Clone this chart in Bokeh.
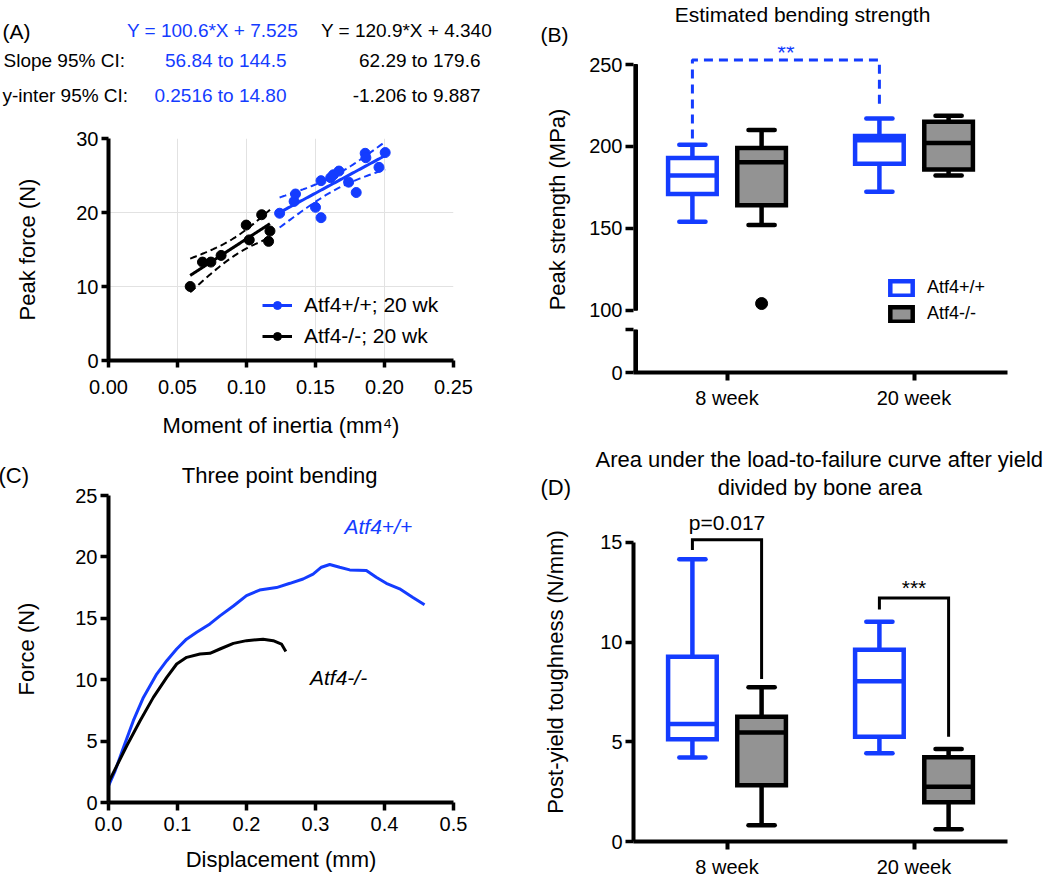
import numpy as np
from bokeh.plotting import figure
from bokeh.models import (Range1d, FixedTicker, NumeralTickFormatter, Label,
                          Legend, LegendItem)
from bokeh.layouts import row, column
from bokeh.embed import file_html
from bokeh.resources import INLINE

FONT = "Liberation Sans"
BLUE = "#143cff"
GRAY = "#939393"
NB = "\u00a0"

# ---------------- Panel A data ----------------
a_wt_x = [0.124, 0.1345, 0.1355, 0.150, 0.154, 0.154, 0.161, 0.163, 0.167,
          0.174, 0.1795, 0.186, 0.1865, 0.196, 0.2005]
a_wt_y = [19.9, 21.5, 22.5, 20.7, 19.3, 24.3, 24.7, 25.1, 25.6,
          24.1, 22.7, 28.0, 27.4, 26.1, 28.1]
a_ko_x = [0.0592, 0.0681, 0.0742, 0.0816, 0.0998, 0.102, 0.111, 0.116, 0.117]
a_ko_y = [10.0, 13.3, 13.3, 14.2, 18.3, 16.3, 19.7, 16.1, 17.5]
a_wt_fit = (100.6, 7.525)
a_ko_fit = (120.9, 4.340)
a_legend = ["Atf4+/+; 20 wk", "Atf4-/-; 20 wk"]
eq_text = ["Y = 100.6*X + 7.525", "Y = 120.9*X + 4.340"]
slope_ci = ["56.84 to 144.5", "62.29 to 179.6"]
yint_ci = ["0.2516 to 14.80", "-1.206 to 9.887"]
row_titles = ["Slope 95% CI:", "y-inter 95% CI:"]
a_xticks = [0, 0.05, 0.10, 0.15, 0.20, 0.25]
a_yticks = [0, 10, 20, 30]

# ---------------- Panel C data ----------------
c_wt_disp = [0, 0.0096, 0.0217, 0.036, 0.0506, 0.0699, 0.0844, 0.0988, 0.113,
             0.1278, 0.147, 0.1615, 0.181, 0.200, 0.219, 0.2435, 0.263, 0.282,
             0.2965, 0.3086, 0.3206, 0.335, 0.3496, 0.3737, 0.388, 0.4026,
             0.4219, 0.4412, 0.458]
c_wt_force = [1.36, 2.58, 4.48, 6.66, 8.56, 10.46, 11.55, 12.5, 13.3, 13.86,
              14.54, 15.2, 16.0, 16.85, 17.3, 17.5, 17.85, 18.2, 18.6, 19.16,
              19.38, 19.16, 18.94, 18.9, 18.34, 17.85, 17.4, 16.7, 16.1]
c_ko_disp = [0, 0.0096, 0.0265, 0.0458, 0.065, 0.0844, 0.0988, 0.1133, 0.1326,
             0.147, 0.1615, 0.181, 0.2, 0.224, 0.2387, 0.2507, 0.257]
c_ko_force = [1.63, 2.72, 4.62, 6.66, 8.56, 10.19, 11.28, 11.82, 12.09, 12.15,
              12.5, 12.96, 13.18, 13.3, 13.18, 12.9, 12.3]
c_labels = ["Atf4+/+", "Atf4-/-"]
c_xticks = [0, 0.1, 0.2, 0.3, 0.4, 0.5]
c_yticks = [0, 5, 10, 15, 20, 25]

# ---------------- Panel B / D data ----------------
categories = ["8 week", "20 week"]
groups = ["Atf4+/+", "Atf4-/-"]

b_wt_min = [154.0, 172.3]
b_wt_q1 = [170.9, 189.4]
b_wt_med = [182.2, 203.8]
b_wt_q3 = [192.9, 206.4]
b_wt_max = [201.1, 217.1]
b_ko_min = [152.0, 182.2]
b_ko_q1 = [164.1, 185.9]
b_ko_med = [190.4, 202.1]
b_ko_q3 = [199.0, 215.1]
b_ko_max = [210.0, 218.8]
b_ko_outlier = [104.1, None]
b_yticks = [100, 150, 200, 250]
b_sig = "**"
b_bracket_y = [204.8, 252.7, 252.7, 223.3]

d_wt_min = [4.21, 4.43]
d_wt_q1 = [5.13, 5.25]
d_wt_med = [5.89, 8.03]
d_wt_q3 = [9.26, 9.62]
d_wt_max = [14.15, 11.02]
d_ko_min = [0.82, 0.62]
d_ko_q1 = [2.82, 1.97]
d_ko_med = [5.46, 2.74]
d_ko_q3 = [6.26, 4.23]
d_ko_max = [7.74, 4.64]
d_yticks = [0, 5, 10, 15]
d_sig = ["p=0.017", "***"]
d_bracket_left = [14.62, 11.64]
d_bracket_top = [15.13, 12.21]
d_bracket_right = [8.15, 5.25]
d_sig_y = [16.0, 12.75]

titles = {"B": "Estimated bending strength", "C": "Three point bending",
          "D": ["Area under the load-to-failure curve after yield", "divided by bone area"]}

# layout constants
WT_OFF, KO_OFF = -0.185, 0.185
BOX_W, CAP_W = 0.26, 0.14
B_ZERO, B_SEG_TOP = 62, 88   # axis-break positions in panel B


def style_axis(ax, label_standoff=3, title_standoff=10):
    ax.axis_line_width = 4
    ax.axis_line_color = "black"
    ax.major_tick_line_width = 3.5
    ax.major_tick_line_color = "black"
    ax.major_tick_out = 8
    ax.major_tick_in = 0
    ax.minor_tick_line_color = None
    ax.major_label_text_font = FONT
    ax.major_label_text_font_size = "20px"
    ax.major_label_text_color = "black"
    ax.major_label_standoff = label_standoff
    ax.axis_label_text_font = FONT
    ax.axis_label_text_font_size = "22px"
    ax.axis_label_text_font_style = "normal"
    ax.axis_label_text_color = "black"
    ax.axis_label_standoff = title_standoff


def make_fig(width, height, x_range, y_range, left, right, top, bottom):
    p = figure(width=width, height=height, x_range=x_range, y_range=y_range,
               output_backend="svg", toolbar_location=None,
               min_border_left=left, min_border_right=right,
               min_border_top=top, min_border_bottom=bottom)
    p.outline_line_color = None
    p.xgrid.grid_line_color = None
    p.ygrid.grid_line_color = None
    p.title.text_font = FONT
    p.title.text_font_size = "22px"
    p.title.text_font_style = "normal"
    p.title.text_color = "black"
    return p


def fit_band(xs, ys, slope, intercept, t_crit, n=60):
    xs = np.asarray(xs); ys = np.asarray(ys)
    k = len(xs)
    resid = ys - (slope * xs + intercept)
    s = np.sqrt(np.sum(resid ** 2) / (k - 2))
    xbar = xs.mean()
    sxx = np.sum((xs - xbar) ** 2)
    gx = np.linspace(xs.min(), xs.max(), n)
    fit = slope * gx + intercept
    half = t_crit * s * np.sqrt(1.0 / k + (gx - xbar) ** 2 / sxx)
    return gx, fit, fit - half, fit + half


T95 = {13: 2.160, 7: 2.365}

# ---------------- Header (panel A statistics) ----------------
hdr = figure(width=520, height=110, x_range=Range1d(0, 520), y_range=Range1d(0, 110),
             x_axis_type=None, y_axis_type=None, output_backend="svg",
             toolbar_location=None, min_border=0)
hdr.outline_line_color = None
hdr.xgrid.grid_line_color = None
hdr.ygrid.grid_line_color = None
try:
    hdr.frame_align = False
except Exception:
    pass


def hlabel(x, y, text, color="black", align="left", size="19px"):
    hdr.add_layout(Label(x=x, y=y, text=text, text_font=FONT, text_font_size=size,
                         text_color=color, text_align=align, text_baseline="middle"))


hlabel(2, 79, "(A)", size="21px")
hlabel(212, 80, eq_text[0], BLUE, "center")
hlabel(406, 80, eq_text[1], "black", "center")
hlabel(3, 50, row_titles[0])
hlabel(286, 50, slope_ci[0], BLUE, "right")
hlabel(480, 50, slope_ci[1], "black", "right")
hlabel(2, 15, row_titles[1])
hlabel(286, 15, yint_ci[0], BLUE, "right")
hlabel(480, 15, yint_ci[1], "black", "right")

# ---------------- Panel A ----------------
pA = make_fig(520, 330, Range1d(0, 0.25), Range1d(0, 30), 108, 67, 28, 72)
style_axis(pA.xaxis[0], 12, 16)
style_axis(pA.yaxis[0], 3, 33)
pA.xaxis.ticker = FixedTicker(ticks=a_xticks)
pA.xaxis.formatter = NumeralTickFormatter(format="0.00")
pA.yaxis.ticker = FixedTicker(ticks=a_yticks)
pA.xaxis.major_tick_out = 7
pA.yaxis.major_tick_out = 7
pA.xgrid.grid_line_color = "#e2e2e2"
pA.ygrid.grid_line_color = "#e2e2e2"
pA.xaxis.axis_label = "Moment of inertia (mm\u2074)"
pA.yaxis.axis_label = "Peak force (N)"

items = []
for xs, ys, (m, c), col, lab in [(a_wt_x, a_wt_y, a_wt_fit, BLUE, a_legend[0]),
                                 (a_ko_x, a_ko_y, a_ko_fit, "black", a_legend[1])]:
    gx, fit, lo, hi = fit_band(xs, ys, m, c, T95[len(xs) - 2])
    pA.line(gx, lo, line_color=col, line_width=2, line_dash="7 4")
    pA.line(gx, hi, line_color=col, line_width=2, line_dash="7 4")
    lr = pA.line(gx, fit, line_color=col, line_width=3)
    sr = pA.scatter(xs, ys, size=10, color=col)
    items.append(LegendItem(label=lab, renderers=[lr, sr]))

legA = Legend(items=items, location=(154, 12), border_line_color=None,
              background_fill_alpha=0, label_text_font=FONT, label_text_font_size="21px",
              label_text_color="black",
              glyph_width=30, glyph_height=20, spacing=7, padding=5, margin=0,
              label_standoff=12)
pA.add_layout(legA)

# ---------------- Panel C ----------------
pC = make_fig(520, 440, Range1d(0, 0.5), Range1d(0, 25), 108, 66, 55, 78)
pC.title.text = "(C)" + NB * 25 + titles["C"]
pC.title.align = "left"
pC.title.offset = -110
pC.title.standoff = 15
style_axis(pC.xaxis[0], 6, 13)
style_axis(pC.yaxis[0], 3, 33)
pC.xaxis.ticker = FixedTicker(ticks=c_xticks)
pC.xaxis.formatter = NumeralTickFormatter(format="0.0")
pC.yaxis.ticker = FixedTicker(ticks=c_yticks)
pC.xaxis.axis_label = "Displacement (mm)"
pC.yaxis.axis_label = "Force (N)"
pC.line(c_wt_disp, c_wt_force, line_color=BLUE, line_width=3)
pC.line(c_ko_disp, c_ko_force, line_color="black", line_width=3)
pC.add_layout(Label(x=0.342, y=22.5, text=c_labels[0], text_font=FONT, text_font_size="21px",
                    text_font_style="italic", text_color=BLUE, text_baseline="middle"))
pC.add_layout(Label(x=0.292, y=10.15, text=c_labels[1], text_font=FONT, text_font_size="21px",
                    text_font_style="italic", text_color="black", text_baseline="middle"))


# ---------------- box helpers ----------------
def draw_boxes(p, pos, mins, q1, med, q3, maxs, line_color, fill_color):
    lw = 4.5
    p.segment(x0=pos, y0=q3, x1=pos, y1=maxs, line_color=line_color, line_width=lw)
    p.segment(x0=pos, y0=mins, x1=pos, y1=q1, line_color=line_color, line_width=lw)
    cl = [x - CAP_W / 2 for x in pos]
    cr = [x + CAP_W / 2 for x in pos]
    p.segment(x0=cl, y0=maxs, x1=cr, y1=maxs, line_color=line_color, line_width=lw,
              line_cap="round")
    p.segment(x0=cl, y0=mins, x1=cr, y1=mins, line_color=line_color, line_width=lw,
              line_cap="round")
    r = p.vbar(x=pos, width=BOX_W, bottom=q1, top=q3, fill_color=fill_color,
               line_color=line_color, line_width=lw, line_join="miter")
    p.segment(x0=[x - BOX_W / 2 for x in pos], y0=med, x1=[x + BOX_W / 2 for x in pos],
              y1=med, line_color=line_color, line_width=lw)
    return r


def cat_axis(p):
    p.xaxis.ticker = FixedTicker(ticks=list(range(len(categories))))
    p.xaxis.major_label_overrides = {i: c for i, c in enumerate(categories)}
    p.xaxis.major_tick_line_width = 4


cat_pos = list(range(len(categories)))
wt_pos = [c + WT_OFF for c in cat_pos]
ko_pos = [c + KO_OFF for c in cat_pos]

# ---------------- Panel B ----------------
pB = make_fig(530, 440, Range1d(-0.5, 1.5), Range1d(B_ZERO, 261), 113, 43, 41, 68)
pB.title.text = NB * 23 + titles["B"] + "\n(B)"
pB.title.text_font_size = "21px"
pB.title.align = "left"
pB.title.offset = -93
pB.title.standoff = 0
pB.title.text_line_height = 0.9
style_axis(pB.xaxis[0], 6, 10)
style_axis(pB.yaxis[0], 3, 16)
cat_axis(pB)
pB.yaxis.ticker = FixedTicker(ticks=[B_ZERO, B_SEG_TOP] + b_yticks)
pB.yaxis.major_label_overrides = {B_ZERO: "0", B_SEG_TOP: ""}
pB.yaxis.axis_line_color = None
pB.yaxis.axis_label = "Peak strength (MPa)"
ax_w = 4 * 2.0 / 374
pB.quad(left=[-0.5, -0.5], right=[-0.5 + ax_w] * 2, bottom=[B_ZERO, b_yticks[0]],
        top=[B_SEG_TOP, b_yticks[-1]], color="black")

pB.line(x=[wt_pos[0], wt_pos[0], wt_pos[1], wt_pos[1]], y=b_bracket_y,
        line_color=BLUE, line_width=3, line_dash="9 6")
pB.add_layout(Label(x=(wt_pos[0] + wt_pos[1]) / 2, y=257.5, text=b_sig, text_font=FONT,
                    text_font_size="22px", text_color=BLUE, text_align="center",
                    text_baseline="middle"))

rb_wt = draw_boxes(pB, wt_pos, b_wt_min, b_wt_q1, b_wt_med, b_wt_q3, b_wt_max, BLUE, "white")
rb_ko = draw_boxes(pB, ko_pos, b_ko_min, b_ko_q1, b_ko_med, b_ko_q3, b_ko_max, "black", GRAY)
out_x = [ko_pos[i] for i, v in enumerate(b_ko_outlier) if v is not None]
out_y = [v for v in b_ko_outlier if v is not None]
pB.scatter(out_x, out_y, size=12, color="black")

legB = Legend(items=[LegendItem(label=groups[0], renderers=[rb_wt]),
                     LegendItem(label=groups[1], renderers=[rb_ko])],
              location=(254, 48), border_line_color=None, background_fill_alpha=0,
              label_text_font=FONT, label_text_font_size="18px", label_text_color="black",
              glyph_width=28, glyph_height=18, spacing=5, padding=5, margin=0,
              label_standoff=12)
pB.add_layout(legB)

# ---------------- Panel D ----------------
pD = make_fig(530, 440, Range1d(-0.5, 1.5), Range1d(0, 17), 113, 42, 62, 32)
pD.title.text = NB * 9 + titles["D"][0] + "\n(D)" + NB * 24 + titles["D"][1]
pD.title.align = "left"
pD.title.offset = -93
pD.title.standoff = 6
pD.title.text_line_height = 1.1
style_axis(pD.xaxis[0], 6, 10)
style_axis(pD.yaxis[0], 3, 29)
cat_axis(pD)
pD.yaxis.ticker = FixedTicker(ticks=d_yticks)
pD.yaxis.bounds = (d_yticks[0], d_yticks[-1])
pD.yaxis.axis_label = "Post-yield toughness (N/mm)"

draw_boxes(pD, wt_pos, d_wt_min, d_wt_q1, d_wt_med, d_wt_q3, d_wt_max, BLUE, "white")
draw_boxes(pD, ko_pos, d_ko_min, d_ko_q1, d_ko_med, d_ko_q3, d_ko_max, "black", GRAY)
for i in range(len(categories)):
    pD.line(x=[wt_pos[i], wt_pos[i], ko_pos[i], ko_pos[i]],
            y=[d_bracket_left[i], d_bracket_top[i], d_bracket_top[i], d_bracket_right[i]],
            line_color="black", line_width=3, line_join="miter")
    pD.add_layout(Label(x=cat_pos[i], y=d_sig_y[i], text=d_sig[i], text_font=FONT,
                        text_font_size="21px", text_color="black", text_align="center",
                        text_baseline="middle"))

layout = row(column(row(hdr), pA, pC), column(pB, pD))
open("out.html", "w").write(file_html(layout, INLINE))
